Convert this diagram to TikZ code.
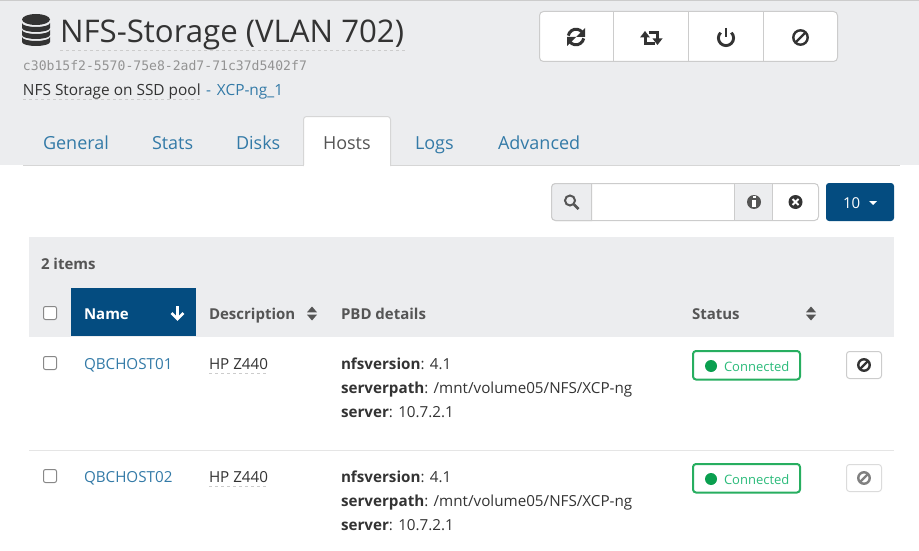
\documentclass[tikz,border=0pt]{standalone}
\usepackage{fontspec}
\setmainfont{Open Sans}
\newfontfamily\hashfont{DejaVu Sans Mono}
\usetikzlibrary{positioning, arrows.meta, shapes.geometric}
\definecolor{panelgray}{RGB}{236, 237, 239}
\definecolor{edgegray}{RGB}{204, 204, 204}
\definecolor{linkblue}{RGB}{51, 122, 167}
\definecolor{navyblue}{RGB}{4, 76, 128}
\definecolor{inkgray}{RGB}{51, 51, 51}
\definecolor{headgray}{RGB}{85, 85, 85}
\definecolor{okgreen}{RGB}{39, 174, 96}
\definecolor{okdot}{RGB}{10, 159, 79}
\definecolor{oktext}{RGB}{42, 187, 122}
\tikzset{
    label/.style={anchor=base west, inner sep=0pt, outer sep=0pt, text=inkgray},
    tabtext/.style={label, text=linkblue, font=\fontsize{18}{20}\selectfont},
    headtext/.style={label, text=headgray, font=\fontsize{15}{17}\selectfont\bfseries},
    celltext/.style={label, font=\fontsize{15.2}{17}\selectfont},
    dotline/.style={edgegray, line width=1pt, dash pattern=on 3pt off 3pt},
    groupbox/.style={draw=edgegray, fill=white, line width=1pt, rounded corners=4pt},
    pics/banicon/.style={code={
        \draw[#1, line width=2.4pt] (0,0) circle (7.2pt);
        \draw[#1, line width=2.4pt] (-5,5) -- (5,-5);
    }},
    pics/sorticon/.style={code={
        \fill[headgray] (-5,-1.2) -- (5,-1.2) -- (0,-7) -- cycle;
        \fill[headgray] (-5,1.2) -- (5,1.2) -- (0,7) -- cycle;
    }},
}
\begin{document}
\begin{tikzpicture}[x=1pt, y=-1pt]
    \useasboundingbox (0,0) rectangle (919,551);
    % header panel
    \fill[panelgray] (0,0) rectangle (919,165);
    \fill[edgegray] (0,0) rectangle (919,1);
    \draw[edgegray!80, line width=1pt] (23,165.5) -- (900,165.5);
    \draw[edgegray!80, fill=white, line width=1pt, rounded corners=3pt] (303.5,166) -- (303.5,116.5) -- (390.5,116.5) -- (390.5,166);
    \fill[white] (304,165) rectangle (390,167);
    % database icon
    \fill[inkgray] (36,19.5) ellipse (14pt and 5.5pt);
    \foreach \cy in {23,30,37} {
        \fill[inkgray] (22,\cy) -- (22,\cy+5) arc[start angle=180, end angle=0, x radius=14, y radius=4] -- (50,\cy) arc[start angle=0, end angle=180, x radius=14, y radius=4] -- cycle;
    }
    % title block
    \node[label, font=\fontsize{31.2}{34}\selectfont] (title) at (60,43) {NFS-Storage (VLAN 702)};
    \draw[dotline] (60,50.5) -- (405,50.5);
    \node[label, text=gray!85, font=\hashfont\fontsize{13.1}{15}\selectfont] (uuid) at (23,70.5) {c30b15f2-5570-75e8-2ad7-71c37d5402f7};
    \node[label, font=\fontsize{15.4}{17}\selectfont] (descr) at (23,95.5) {NFS Storage on SSD pool};
    \draw[dotline] (23,99.5) -- (201,99.5);
    \node[label, text=linkblue, font=\fontsize{15.4}{17}\selectfont] (pool) at (206,95.5) {-\hspace{2pt} XCP-ng\_1};
    % tabs
    \node[tabtext] (tabgeneral) at (43,149) {General};
    \node[tabtext] (tabstats) at (152,149) {Stats};
    \node[tabtext] (tabdisks) at (236,149) {Disks};
    \node[tabtext, text=headgray] (tabhosts) at (323,149) {Hosts};
    \node[tabtext] (tablogs) at (415,149) {Logs};
    \node[tabtext] (tabadvanced) at (498,149) {Advanced};
    % action buttons
    \draw[groupbox] (539.5,11.5) rectangle (837.5,61.5);
    \foreach \bx in {613.5,688.5,763.5} {
        \draw[edgegray, line width=1pt] (\bx,11.5) -- (\bx,61.5);
    }
    \draw[inkgray, line width=3pt] (576,37) ++(190:7.8) arc[start angle=190, end angle=320, radius=7.8];
    \fill[inkgray] (585,28) -- (585,37) -- (576,37) -- cycle;
    \draw[inkgray, line width=3pt] (576,37) ++(10:7.8) arc[start angle=10, end angle=140, radius=7.8];
    \fill[inkgray] (567,46) -- (567,37) -- (576,37) -- cycle;
    \draw[inkgray, line width=3pt] (645,36) -- (645,43.5) -- (655,43.5);
    \fill[inkgray] (640,37.5) -- (650,37.5) -- (645,31) -- cycle;
    \draw[inkgray, line width=3pt] (648.5,32.5) -- (657.5,32.5) -- (657.5,40);
    \fill[inkgray] (652.5,38.5) -- (662.5,38.5) -- (657.5,45) -- cycle;
    \draw[inkgray, line width=2.9pt] (726,38) ++(225:7.6) arc[start angle=225, end angle=-45, radius=7.6];
    \draw[inkgray, line width=2.9pt] (726,28) -- (726,37);
    \pic at (800.5,37.5) {banicon=inkgray};
    % search box
    \draw[groupbox] (551.5,183.5) rectangle (818.5,220.5);
    \draw[edgegray, fill=panelgray, line width=1pt] (591.5,183.5) -- (555.5,183.5) arc[start angle=270, end angle=180, radius=4] -- (551.5,216.5) arc[start angle=180, end angle=90, radius=4] -- (591.5,220.5) -- cycle;
    \draw[edgegray, fill=panelgray, line width=1pt] (734.5,183) rectangle (772.5,220.5);
    \draw[headgray, line width=2pt] (570,200.5) circle (5pt);
    \draw[headgray, line width=2.6pt] (574,204.5) -- (578.5,209);
    \fill[headgray] (754,202) circle (7pt);
    \fill[white] (753,196) rectangle (755.5,198.4);
    \fill[white] (751.5,200) rectangle (755.5,206.5);
    \fill[inkgray] (795.5,202) circle (7pt);
    \draw[white, line width=1.8pt] (792.5,199) -- (798.5,205);
    \draw[white, line width=1.8pt] (798.5,199) -- (792.5,205);
    \fill[navyblue, rounded corners=3pt] (826,183) rectangle (894,221);
    \node[label, text=white, font=\fontsize{15}{17}\selectfont] (pagesize) at (843,208) {10};
    \fill[white] (869,201) -- (877,201) -- (873,205) -- cycle;
    % table head
    \fill[panelgray] (29,237) rectangle (894,337);
    \node[headtext] (itemcount) at (41,269) {2 items};
    \draw[draw=headgray!70, fill=white, line width=1pt, rounded corners=2pt] (43.5,306.5) rectangle (56.5,319.5);
    \fill[navyblue] (71,288) rectangle (196,336);
    \node[headtext, text=white] (namehead) at (84,319) {Name};
    \draw[white, line width=3pt] (177.5,306) -- (177.5,318);
    \draw[white, line width=2.8pt] (171.5,313) -- (177.5,319) -- (183.5,313);
    \node[headtext] (deschead) at (209,319) {Description};
    \pic at (312,313.5) {sorticon};
    \node[headtext] (pbdhead) at (341,319) {PBD details};
    \node[headtext] (statushead) at (692,319) {Status};
    \pic at (811,313.5) {sorticon};
    % host rows
    \draw[edgegray!50, line width=1pt] (29,450.5) -- (894,450.5);
    \foreach \hostname/\dy/\bancol/\banedge in {QBCHOST01/0/inkgray/edgegray, QBCHOST02/113/gray/edgegray!70} {
        \begin{scope}[yshift=-\dy pt]
            \draw[draw=headgray!70, fill=white, line width=1pt, rounded corners=2pt] (43.5,356.5) rectangle (56.5,369.5);
            \node[celltext, text=linkblue] (host\dy) at (84,369) {\hostname};
            \node[celltext] (model\dy) at (209,369) {HP Z440};
            \draw[dotline] (209,373.5) -- (268,373.5);
            \node[celltext] (nfs\dy) at (341,369) {\textbf{nfsversion}: 4.1};
            \node[celltext] (path\dy) at (341,393) {\textbf{serverpath}: /mnt/volume05/NFS/XCP-ng};
            \node[celltext] (addr\dy) at (341,417) {\textbf{server}: 10.7.2.1};
            \draw[okgreen, fill=white, line width=2pt, rounded corners=3pt] (693,351) rectangle (800,379.5);
            \fill[okdot] (711,366) circle (6pt);
            \node[label, text=oktext, font=\fontsize{13}{15}\selectfont] (state\dy) at (724,371) {Connected};
            \draw[\banedge, fill=white, line width=1pt, rounded corners=3pt] (846.5,351.5) rectangle (881.5,378.5);
            \pic[scale=0.8] at (864,365) {banicon=\bancol};
        \end{scope}
    }
\end{tikzpicture}
\end{document}
